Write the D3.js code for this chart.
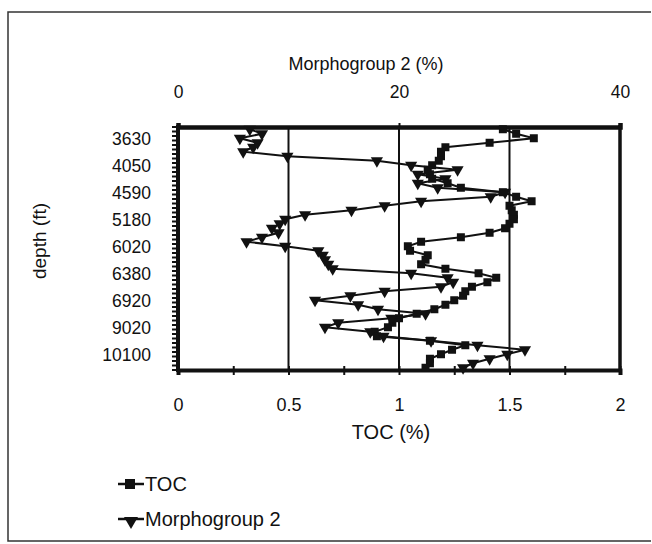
<!DOCTYPE html>
<html lang="en">
<head>
<meta charset="UTF-8">
<title>TOC and Morphogroup 2 vs depth</title>
<script src="https://d3js.org/d3.v7.min.js"></script>
<style>
  body { margin: 0; background: #fff; }
  text { font-family: "Liberation Sans", Arial, sans-serif; fill: #111; }
</style>
</head>
<body>
<div id="chart"></div>
<script>
// depth samples (top to bottom), only every 6th one is labelled
const depthLabels = ["3630", "4050", "4590", "5180", "6020", "6380", "6920", "9020", "10100"];
const nSamples = 54;

// TOC (%) per sample
const toc = [1.47, 1.53, 1.61, 1.41, 1.21, 1.19, 1.19, 1.18, 1.15, 1.13,
             1.14, 1.15, 1.22, 1.28, 1.47, 1.53, 1.60, 1.50, 1.51, 1.52,
             1.52, 1.50, 1.48, 1.41, 1.28, 1.10, 1.04, 1.05, 1.13, 1.12,
             1.10, 1.21, 1.36, 1.44, 1.40, 1.33, 1.30, 1.29, 1.25, 1.21,
             1.16, 1.08, 1.00, 0.97, 0.95, 0.89, 0.90, 1.14, 1.30, 1.24,
             1.19, 1.14, 1.14, 1.12];

// Morphogroup 2 (%) per sample
const morph = [6.5, 7.6, 5.6, 7.2, 6.8, 5.9, 9.9, 18.0, 21.1, 25.3,
               21.7, 24.2, 21.7, 23.5, 29.6, 28.3, 22.0, 18.7, 15.7, 11.5,
               9.7, 9.2, 8.5, 9.1, 7.6, 6.2, 9.7, 12.7, 13.1, 13.3,
               13.6, 14.0, 21.1, 24.4, 24.9, 23.8, 18.7, 15.6, 12.4, 16.3,
               18.1, 22.4, 19.3, 14.5, 13.3, 17.4, 18.6, 22.9, 27.1, 31.4,
               29.8, 28.2, 26.7, 25.8];

const tocTicks = [0, 0.5, 1, 1.5, 2];
const morphTicks = [0, 20, 40];

const W = 652, H = 544;
const plot = {left: 178, right: 620, top: 127, bottom: 370};

const svg = d3.select("#chart").append("svg")
    .attr("width", W)
    .attr("height", H);

// outer frame of the figure
svg.append("path")
    .attr("d", `M651,12 H8 V541 H651`)
    .attr("fill", "none")
    .attr("stroke", "#333")
    .attr("stroke-width", 1.5);

const x = d3.scaleLinear().domain([0, 2]).range([plot.left, plot.right]);
const xTop = d3.scaleLinear().domain([0, 40]).range([plot.left, plot.right]);
const y = d3.scaleBand()
    .domain(d3.range(nSamples))
    .range([plot.top, plot.bottom]);
const yc = i => y(i) + y.bandwidth() / 2;

// vertical gridlines
svg.append("g")
    .selectAll("line")
    .data(tocTicks.slice(1, -1))
    .enter().append("line")
    .attr("x1", d => x(d)).attr("x2", d => x(d))
    .attr("y1", plot.top).attr("y2", plot.bottom)
    .attr("stroke", "#111")
    .attr("stroke-width", 2);

// bottom axis (TOC)
const xAxis = svg.append("g")
    .attr("transform", `translate(0, ${plot.bottom})`)
    .call(d3.axisBottom(x)
        .tickValues(d3.range(0, 2.01, 0.25))
        .tickSize(5)
        .tickFormat(d => tocTicks.includes(d) ? d : ""));
xAxis.select(".domain").attr("stroke", "#111").attr("stroke-width", 4);
xAxis.selectAll(".tick line").attr("stroke", "#111").attr("stroke-width", 2).attr("y1", -4);
xAxis.selectAll(".tick text").attr("font-size", 18).attr("dy", "1.85em");

svg.append("text")
    .attr("x", 391)
    .attr("y", 439)
    .attr("text-anchor", "middle")
    .attr("font-size", 20)
    .text("TOC (%)");

// top axis (Morphogroup 2)
const topAxis = svg.append("g")
    .attr("transform", `translate(0, ${plot.top})`)
    .call(d3.axisTop(xTop).tickValues(morphTicks).tickSize(4));
topAxis.select(".domain").attr("stroke", "#111").attr("stroke-width", 4.5);
topAxis.selectAll(".tick line").attr("stroke", "#111").attr("stroke-width", 2);
topAxis.selectAll(".tick text").attr("font-size", 17.5).attr("dy", "-1.25em");

svg.append("text")
    .attr("x", 366)
    .attr("y", 70)
    .attr("text-anchor", "middle")
    .attr("font-size", 18)
    .text("Morphogroup 2 (%)");

// right border
svg.append("line")
    .attr("x1", plot.right).attr("x2", plot.right)
    .attr("y1", plot.top - 2).attr("y2", plot.bottom + 2)
    .attr("stroke", "#111").attr("stroke-width", 3.5);

// left axis (depth), tick at every sample boundary
const boundaries = d3.range(nSamples + 1).map(i => plot.top + i * y.step());
svg.append("line")
    .attr("x1", plot.left).attr("x2", plot.left)
    .attr("y1", plot.top - 2).attr("y2", plot.bottom + 2)
    .attr("stroke", "#111").attr("stroke-width", 4);
svg.append("g")
    .selectAll("line")
    .data(boundaries)
    .enter().append("line")
    .attr("x1", plot.left - 6).attr("x2", plot.left)
    .attr("y1", d => d).attr("y2", d => d)
    .attr("stroke", "#111")
    .attr("stroke-width", 2);

svg.append("g")
    .selectAll("text")
    .data(depthLabels)
    .enter().append("text")
    .attr("x", 151)
    .attr("y", (d, k) => yc(2 + k * 6))
    .attr("dy", "0.36em")
    .attr("text-anchor", "end")
    .attr("font-size", 17.5)
    .text(d => d);

svg.append("text")
    .attr("transform", "translate(46, 241) rotate(-90)")
    .attr("text-anchor", "middle")
    .attr("font-size", 19)
    .text("depth (ft)");

// series
const tri = d3.symbol().type(d3.symbolTriangle).size(64);

const tocLine = d3.line().x(d => x(d)).y((d, i) => yc(i));
svg.append("path")
    .datum(toc)
    .attr("d", tocLine)
    .attr("fill", "none")
    .attr("stroke", "#111")
    .attr("stroke-width", 2);
svg.append("g")
    .selectAll("rect")
    .data(toc)
    .enter().append("rect")
    .attr("x", d => x(d) - 4)
    .attr("y", (d, i) => yc(i) - 4)
    .attr("width", 8)
    .attr("height", 8)
    .attr("fill", "#111");

const morphLine = d3.line().x(d => xTop(d)).y((d, i) => yc(i));
svg.append("path")
    .datum(morph)
    .attr("d", morphLine)
    .attr("fill", "none")
    .attr("stroke", "#111")
    .attr("stroke-width", 2);
svg.append("g")
    .selectAll("path")
    .data(morph)
    .enter().append("path")
    .attr("d", tri)
    .attr("transform", (d, i) => `translate(${xTop(d)}, ${yc(i)}) rotate(180)`)
    .attr("fill", "#111");

// legend
const legend = svg.append("g");
const items = [{name: "TOC", y: 484}, {name: "Morphogroup 2", y: 519}];
legend.selectAll("line")
    .data(items)
    .enter().append("line")
    .attr("x1", 118).attr("x2", 144)
    .attr("y1", d => d.y).attr("y2", d => d.y)
    .attr("stroke", "#111").attr("stroke-width", 2.5);
legend.append("rect")
    .attr("x", 125).attr("y", 479).attr("width", 10).attr("height", 10)
    .attr("fill", "#111");
legend.append("path")
    .attr("d", d3.symbol().type(d3.symbolTriangle).size(85))
    .attr("transform", "translate(131, 521) rotate(180)")
    .attr("fill", "#111");
legend.selectAll("text")
    .data(items)
    .enter().append("text")
    .attr("x", 145)
    .attr("y", d => d.y)
    .attr("dy", "0.36em")
    .attr("font-size", 20)
    .text(d => d.name);
</script>
</body>
</html>
